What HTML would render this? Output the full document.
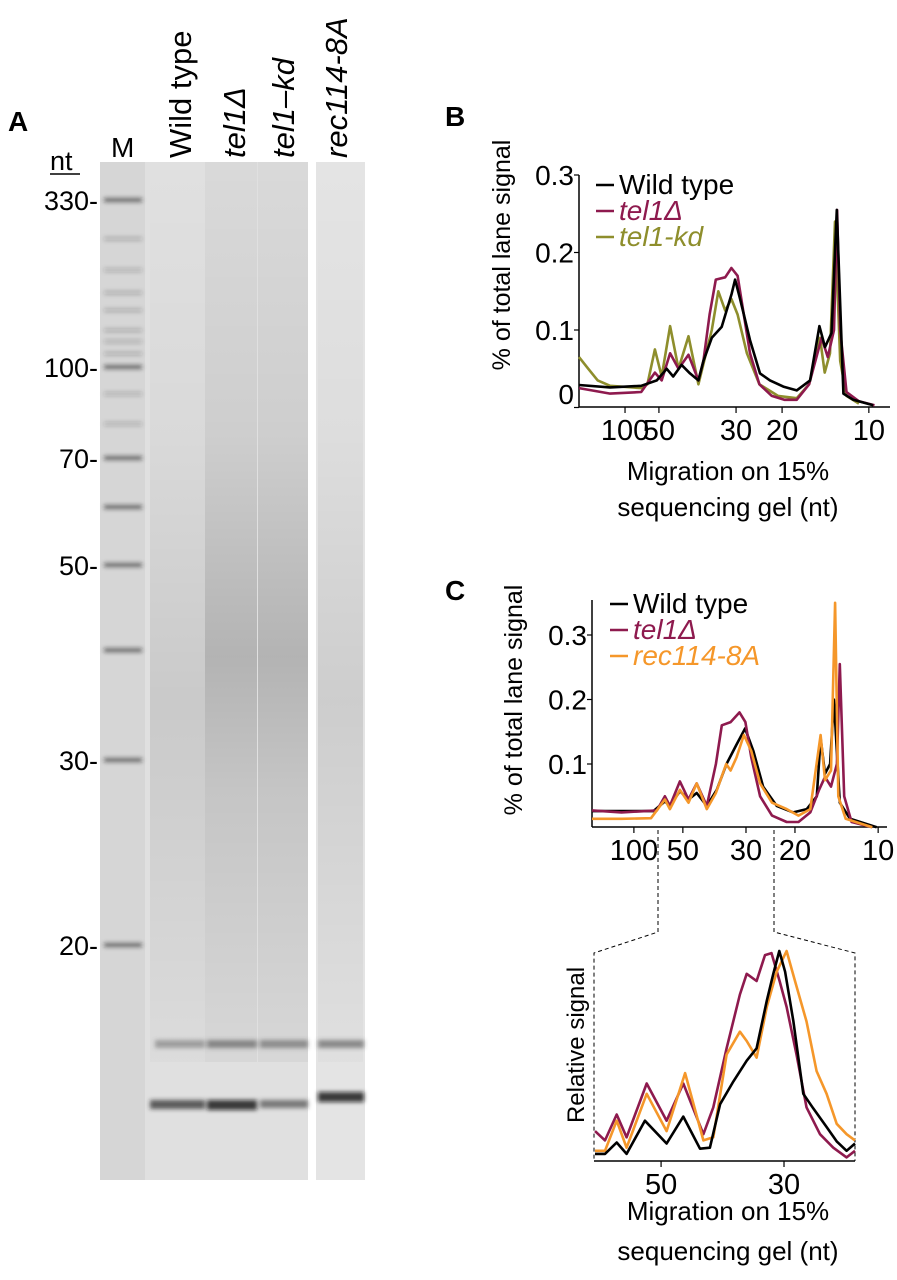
<!DOCTYPE html>
<html><head><meta charset="utf-8"><style>
html,body{margin:0;padding:0;background:#fff;}
svg{display:block;font-family:"Liberation Sans",Arial,sans-serif;}
</style></head><body>
<svg id="fig" width="897" height="1280" viewBox="0 0 897 1280" xmlns="http://www.w3.org/2000/svg">
<defs>
<filter id="blur2" x="-20%" y="-200%" width="140%" height="500%"><feGaussianBlur stdDeviation="2"/></filter>
<linearGradient id="smear" x1="0" y1="0" x2="0" y2="1">
<stop offset="0" stop-color="#000" stop-opacity="0.03"/>
<stop offset="0.3" stop-color="#000" stop-opacity="0.08"/>
<stop offset="0.55" stop-color="#000" stop-opacity="0.2"/>
<stop offset="0.7" stop-color="#000" stop-opacity="0.12"/>
<stop offset="1" stop-color="#000" stop-opacity="0.04"/>
</linearGradient>
<linearGradient id="smearWeak" x1="0" y1="0" x2="0" y2="1">
<stop offset="0" stop-color="#000" stop-opacity="0.0"/>
<stop offset="0.3" stop-color="#000" stop-opacity="0.03"/>
<stop offset="0.6" stop-color="#000" stop-opacity="0.1"/>
<stop offset="1" stop-color="#000" stop-opacity="0.02"/>
</linearGradient>
</defs>

<!-- Panel A: gel -->
<g>
<text x="8" y="131" font-size="28" font-weight="bold">A</text>
<text x="111" y="157" font-size="28">M</text>
<text transform="translate(191,158) rotate(-90)" font-size="31">Wild type</text>
<text transform="translate(245,158) rotate(-90)" font-size="31" font-style="italic">tel1Δ</text>
<text transform="translate(294,158) rotate(-90)" font-size="31" font-style="italic">tel1–kd</text>
<text transform="translate(347,158) rotate(-90)" font-size="31" font-style="italic">rec114-8A</text>
<text x="50" y="170" font-size="27">nt</text>
<line x1="50" y1="174" x2="80" y2="174" stroke="#000" stroke-width="1.5"/>
<rect x="100" y="162" width="208" height="1018" fill="#e0e0e0"/>
<rect x="316" y="162" width="49" height="1018" fill="#e4e4e4"/>
<rect x="100" y="162" width="45" height="1018" fill="#d6d6d6"/>
<rect x="150" y="162" width="55" height="900" fill="url(#smearWeak)"/>
<rect x="205" y="162" width="52" height="900" fill="url(#smear)"/>
<rect x="258" y="162" width="50" height="900" fill="url(#smear)"/>
<rect x="318" y="162" width="45" height="900" fill="url(#smearWeak)"/>
<g id="ladder" filter="url(#blur2)"></g>
<g filter="url(#blur2)">
<rect x="155" y="1040" width="50" height="8" fill="#555" opacity="0.45"/>
<rect x="207" y="1040" width="50" height="8" fill="#444" opacity="0.55"/>
<rect x="260" y="1040" width="48" height="8" fill="#444" opacity="0.5"/>
<rect x="318" y="1040" width="46" height="8" fill="#444" opacity="0.55"/>
<rect x="150" y="1100" width="55" height="9" fill="#222" opacity="0.7"/>
<rect x="207" y="1100" width="50" height="10" fill="#111" opacity="0.8"/>
<rect x="260" y="1100" width="48" height="8" fill="#333" opacity="0.6"/>
<rect x="318" y="1092" width="46" height="10" fill="#111" opacity="0.8"/>
</g>
<g id="gel-ticks" font-size="27" text-anchor="end"></g>
</g>

<!-- Panel B -->
<g id="panelB">
<text x="445" y="126" font-size="28" font-weight="bold">B</text>
<text transform="translate(510,255) rotate(-90)" font-size="25" text-anchor="middle">% of total lane signal</text>
<text x="728" y="480" font-size="26" text-anchor="middle">Migration on 15%</text>
<text x="728" y="516" font-size="26" text-anchor="middle">sequencing gel (nt)</text>
</g>

<!-- Panel C -->
<g id="panelC">
<text x="445" y="600" font-size="28" font-weight="bold">C</text>
<text transform="translate(522,700) rotate(-90)" font-size="25" text-anchor="middle">% of total lane signal</text>
<text transform="translate(584,1045) rotate(-90)" font-size="24" text-anchor="middle">Relative signal</text>
<text x="728" y="1220" font-size="26" text-anchor="middle">Migration on 15%</text>
<text x="728" y="1260" font-size="26" text-anchor="middle">sequencing gel (nt)</text>
<g stroke="#000" stroke-width="1" stroke-dasharray="4,3" fill="none">
<polyline points="658,830 658,880 658,932 594,953 594,1161"/>
<polyline points="774,830 774,880 774,932 855,953 855,1161"/>
</g>
</g>
</svg>
<script>
// ---------- Gel data ----------
const gelMarkerLabels = ["330","100","70","50","30","20"];
const gelMarkerY = [200,367,458,565,760,945];
const ladderBandsNt = [330,250,200,170,150,130,120,110,100,90,80,70,60,50,40,30,20];

// ---------- Panel B data (migration units 0–100 along axis) ----------
const bTickLabels = ["100","50","30","20","10"];
const bTickPos = [14.8,25.7,50.5,65.3,93.2];
const bYTicks = [0,0.1,0.2,0.3];
const bWtX = [0,10,20,25,28.2,30.3,33,35.7,38.4,40,42.7,45.9,49.1,50.2,51.8,55,58.2,61.4,65.7,70,74.3,77.3,79.1,81.2,82.9,85,88.2,94.6];
const bWtY = [0.029,0.026,0.028,0.035,0.05,0.04,0.055,0.044,0.035,0.06,0.09,0.104,0.147,0.165,0.14,0.087,0.044,0.035,0.027,0.022,0.035,0.105,0.078,0.096,0.255,0.018,0.01,0.003];
const bTelX = [0,10,20,24.4,26.6,29.3,32,35.2,38.4,40,42,44,47,49,51,53,55,58,62,66,70,74,77,78,80,82,83,84,86,90,95];
const bTelY = [0.025,0.018,0.02,0.045,0.035,0.07,0.05,0.068,0.035,0.06,0.12,0.165,0.168,0.18,0.17,0.12,0.07,0.03,0.015,0.01,0.01,0.03,0.075,0.09,0.065,0.1,0.255,0.1,0.02,0.008,0.003];
const bKdX = [0,3,6,10,20,22,24.4,26.6,29.3,32,35.2,38.4,42.7,44.8,47,49,51,54,58,64,70,74,76.4,77.5,79,80.7,82.3,84,86,90];
const bKdY = [0.065,0.05,0.035,0.028,0.025,0.03,0.075,0.04,0.105,0.05,0.092,0.03,0.1,0.15,0.125,0.14,0.12,0.07,0.03,0.015,0.012,0.03,0.07,0.09,0.045,0.07,0.24,0.06,0.015,0.005];

// ---------- Panel C data ----------
const cTickLabels = ["100","50","30","20","10"];
const cTickPos = [14.2,30.8,52.2,68.8,97];
const cYTicks = [0.1,0.2,0.3];
const cWtX = [0,10,20.8,24.7,26.4,29.8,32.7,35.5,38.9,42.3,45.6,49,51.9,54.7,58,62.6,68.2,72.8,76.2,77.5,79,80.7,82,84,87.5,96.5];
const cWtY = [0.027,0.027,0.027,0.042,0.035,0.058,0.045,0.055,0.035,0.06,0.1,0.13,0.155,0.12,0.065,0.035,0.025,0.03,0.05,0.14,0.085,0.1,0.2,0.04,0.015,0.002];
const cTelX = [0,10,22,24.7,26.4,29.8,32.7,35.5,38.9,42,44,47,50,52,54,57,61,66,70,74,77,79,81,83,84,85.5,88,95];
const cTelY = [0.028,0.025,0.028,0.05,0.035,0.073,0.045,0.07,0.035,0.1,0.16,0.165,0.18,0.165,0.11,0.05,0.02,0.01,0.01,0.025,0.06,0.08,0.065,0.1,0.255,0.05,0.01,0.002];
const cRecX = [0,10,20,24.7,26.4,29.8,32.7,35.5,38.9,42,45.5,47,49,51.5,54,57,61,66,70,74,77.5,79,81,82.4,83.5,86,95];
const cRecY = [0.015,0.015,0.016,0.045,0.03,0.06,0.04,0.07,0.03,0.055,0.1,0.09,0.11,0.145,0.12,0.07,0.04,0.03,0.02,0.03,0.145,0.075,0.09,0.35,0.05,0.015,0.002];

// ---------- Zoom (relative signal) data ----------
const zTickLabels = ["50","30"];
const zTickPos = [25.7,72.8];
const zWtX = [0.4,4.2,8.7,12.5,19.5,27.8,34.2,40.6,44.4,48.3,53.4,58.5,62.3,66.2,68.7,71,73.2,76.4,80.2,84,89.1,93,96.8,100];
const zWtY = [0.02,0.02,0.075,0.02,0.18,0.07,0.2,0.045,0.05,0.26,0.37,0.47,0.53,0.76,0.89,1.0,0.9,0.66,0.31,0.24,0.15,0.08,0.035,0.07];
const zTelX = [0.4,4.2,8.7,12.5,20.2,27.8,34.2,41.9,45.7,50.8,55.9,58.5,62.3,65.5,68,71.1,73.8,77.6,81.4,86.6,91.7,96.8,100];
const zTelY = [0.13,0.085,0.21,0.1,0.36,0.18,0.36,0.115,0.245,0.53,0.79,0.89,0.855,0.98,0.99,0.855,0.73,0.5,0.245,0.115,0.05,0.003,0.035];
const zRecX = [0.4,4.2,8.7,12.5,20.2,27.8,34.9,41.9,45.7,50.8,55.9,58.5,62.3,66.2,70,73.8,77,81.4,85.3,89.1,93,96.8,100];
const zRecY = [0.035,0.035,0.18,0.05,0.31,0.13,0.41,0.085,0.1,0.5,0.61,0.565,0.485,0.73,0.9,1.0,0.855,0.66,0.42,0.31,0.165,0.115,0.085];

const NS = "http://www.w3.org/2000/svg";
function mk(tag, attrs, parent){const e=document.createElementNS(NS,tag);for(const k in attrs)e.setAttribute(k,attrs[k]);parent.appendChild(e);return e;}
const COLORS = {wt:"#000000", tel:"#8e1a4e", kd:"#8e8e2c", rec:"#f5972a"};

// ---- Gel ticks & ladder ----
const gt = document.getElementById('gel-ticks');
const ladder = document.getElementById('ladder');
const markerNt = [330,100,70,50,30,20];
function gelY(nt){
  const l = Math.log(nt);
  for(let i=0;i<markerNt.length-1;i++){
    const a=Math.log(markerNt[i]), b=Math.log(markerNt[i+1]);
    if(l<=a && l>=b){return gelMarkerY[i]+(a-l)/(a-b)*(gelMarkerY[i+1]-gelMarkerY[i]);}
  }
  return gelMarkerY[gelMarkerY.length-1];
}
gelMarkerLabels.forEach((lab,i)=>{
  const t = mk('text',{x:98,y:gelMarkerY[i]+10},gt);
  t.textContent = lab + "-";
  
  
});
ladderBandsNt.forEach(nt=>{
  const strong = [330,100,70,50,30,20,40,60].includes(nt);
  const r = mk('rect',{x:104,y:gelY(nt)-2,width:38,height:4,fill:"#222",opacity:strong?0.6:0.2},ladder);
  
  
});

// ---- Generic line chart ----
function drawChart(parent, cfg){
  const xf = m => cfg.x0 + (cfg.x1-cfg.x0)*m/100;
  const yf = v => cfg.yBase - v*cfg.yScale;
  const ax = mk('line',{x1:cfg.x0,y1:cfg.axisY,x2:cfg.x1,y2:cfg.axisY,stroke:"#000","stroke-width":1.5},parent);
  
  
  if(cfg.yAxis){
    const ay = mk('line',{x1:cfg.x0,y1:cfg.yTop,x2:cfg.x0,y2:cfg.axisY,stroke:"#000","stroke-width":1.5},parent);
    
    
    cfg.yTicks.forEach(v=>{
      mk('line',{x1:cfg.x0-5,y1:yf(v),x2:cfg.x0,y2:yf(v),stroke:"#000","stroke-width":1.2},parent);
      const t = mk('text',{x:cfg.x0-5,y:(v===0?cfg.axisY-3:yf(v)+10),"font-size":28,"text-anchor":"end"},parent);
      t.textContent = v===0?"0":v.toFixed(1);
      
      
    });
  }
  cfg.xTickPos.forEach((p,i)=>{
    mk('line',{x1:xf(p),y1:cfg.axisY,x2:xf(p),y2:cfg.axisY+6,stroke:"#000","stroke-width":1.2},parent);
    const t = mk('text',{x:xf(p),y:cfg.axisY+33,"font-size":29,"text-anchor":"middle"},parent);
    t.textContent = cfg.xTickLabels[i];
    
    
  });
  cfg.series.forEach(s=>{
    const d = s.xs.map((m,i)=>(i?'L':'M')+xf(m).toFixed(1)+' '+yf(s.ys[i]).toFixed(1)).join(' ');
    const p = mk('path',{d:d,fill:"none",stroke:s.color,"stroke-width":2.6,"stroke-linejoin":"round"},parent);
    
    
  });
  if(cfg.legend){
    cfg.legend.forEach((lg,i)=>{
      const y = cfg.legendY + i*26;
      const l = mk('line',{x1:cfg.legendX,y1:y-9,x2:cfg.legendX+18,y2:y-9,stroke:lg.color,"stroke-width":2.5},parent);
      
      
      const t = mk('text',{x:cfg.legendX+23,y:y,"font-size":28,fill:lg.color,"font-style":lg.italic?"italic":"normal"},parent);
      t.textContent = lg.label;
      
      
    });
  }
}

drawChart(document.getElementById('panelB'),{
  prefix:'b', x0:579, x1:890, axisY:407, yTop:175, yBase:407.5, yScale:775, yAxis:true,
  yTicks:bYTicks, xTickPos:bTickPos, xTickLabels:bTickLabels,
  series:[
    {name:'tel1-kd',xs:bKdX,ys:bKdY,color:COLORS.kd},
    {name:'tel1-delta',xs:bTelX,ys:bTelY,color:COLORS.tel},
    {name:'wild-type',xs:bWtX,ys:bWtY,color:COLORS.wt}],
  legend:[{key:'wild-type',label:'Wild type',color:COLORS.wt},
          {key:'tel1-delta',label:'tel1Δ',color:COLORS.tel,italic:true},
          {key:'tel1-kd',label:'tel1-kd',color:COLORS.kd,italic:true}],
  legendX:596, legendY:194
});

drawChart(document.getElementById('panelC'),{
  prefix:'c', x0:592, x1:887, axisY:827, yTop:600, yBase:828.5, yScale:645, yAxis:true,
  yTicks:cYTicks, xTickPos:cTickPos, xTickLabels:cTickLabels,
  series:[
    {name:'wild-type',xs:cWtX,ys:cWtY,color:COLORS.wt},
    {name:'tel1-delta',xs:cTelX,ys:cTelY,color:COLORS.tel},
    {name:'rec114-8a',xs:cRecX,ys:cRecY,color:COLORS.rec}],
  legend:[{key:'c-wild-type',label:'Wild type',color:COLORS.wt},
          {key:'c-tel1-delta',label:'tel1Δ',color:COLORS.tel,italic:true},
          {key:'c-rec114-8a',label:'rec114-8A',color:COLORS.rec,italic:true}],
  legendX:610, legendY:613
});

drawChart(document.getElementById('panelC'),{
  prefix:'zoom', x0:594, x1:855, axisY:1161, yTop:950, yBase:1158, yScale:207, yAxis:false,
  yTicks:[], xTickPos:zTickPos, xTickLabels:zTickLabels,
  series:[
    {name:'tel1-delta',xs:zTelX,ys:zTelY,color:COLORS.tel},
    {name:'rec114-8a',xs:zRecX,ys:zRecY,color:COLORS.rec},
    {name:'wild-type',xs:zWtX,ys:zWtY,color:COLORS.wt}]
});
</script>
</body></html>
